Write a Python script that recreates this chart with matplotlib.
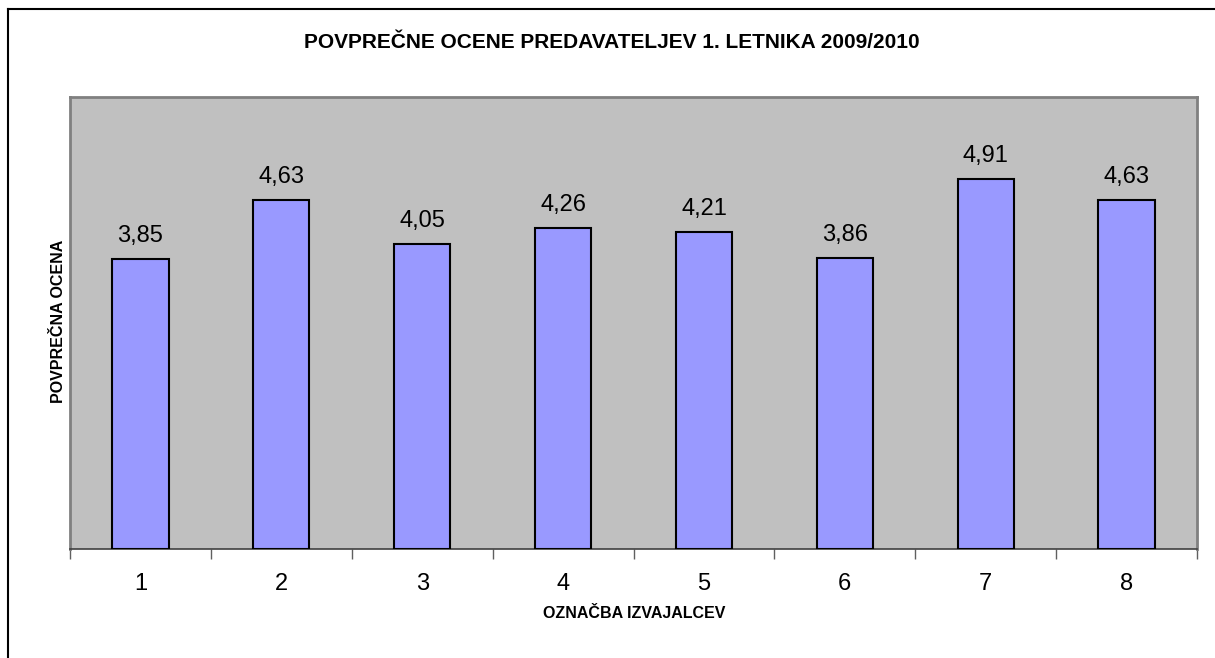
import matplotlib
matplotlib.use("Agg")
import matplotlib.pyplot as plt
from matplotlib.lines import Line2D

categories = ["1", "2", "3", "4", "5", "6", "7", "8"]
values = [3.85, 4.63, 4.05, 4.26, 4.21, 3.86, 4.91, 4.63]
labels = ["3,85", "4,63", "4,05", "4,26", "4,21", "3,86", "4,91", "4,63"]

plt.rcParams['font.family'] = ['Liberation Sans', 'DejaVu Sans']

W, H = 1215, 658
fig = plt.figure(figsize=(W / 100, H / 100), dpi=100)
fig.patch.set_facecolor('white')

# outer frame (left and top visible)
fig.add_artist(Line2D([7.5 / W, 7.5 / W], [0, 1 - 9 / H], transform=fig.transFigure, color='black', lw=1.5))
fig.add_artist(Line2D([7.5 / W, 1], [1 - 9 / H, 1 - 9 / H], transform=fig.transFigure, color='black', lw=1.5))

left, right, top, bottom = 70, 1197, 97, 549
ax = fig.add_axes([left / W, 1 - bottom / H, (right - left) / W, (bottom - top) / H])
ax.set_facecolor('#C0C0C0')

x = list(range(len(categories)))
bars = ax.bar(x, values, width=0.4, color='#9999FF', edgecolor='black', linewidth=1.5, zorder=3)
for xi, v, lab in zip(x, values, labels):
    ax.text(xi, v + 0.16, lab, ha='center', va='bottom', fontsize=17, color='black')

ax.set_xlim(-0.5, len(categories) - 0.5)
ax.set_ylim(0, 6)
ax.set_yticks([])
ax.set_xticks([i - 0.5 for i in range(len(categories) + 1)], minor=False)
ax.set_xticklabels([])
ax.tick_params(axis='x', which='major', direction='out', length=7, width=1, color='#606060')
ax.set_xticks(x, minor=True)
ax.set_xticklabels(categories, minor=True, fontsize=17)
ax.tick_params(axis='x', which='minor', length=0, pad=17)

for s in ['top', 'right', 'left']:
    ax.spines[s].set_color('#808080')
    ax.spines[s].set_linewidth(2)
ax.spines['bottom'].set_color('#404040')
ax.spines['bottom'].set_linewidth(1.2)

ax.set_xlabel('OZNAČBA IZVAJALCEV', fontsize=11.5, fontweight='bold', va='center')
ax.xaxis.set_label_coords(0.5 + (634 - (left + right) / 2) / (right - left), (bottom - 613) / (bottom - top))
ax.set_ylabel('POVPREČNA OCENA', fontsize=11.5, fontweight='bold', va='center')
ax.yaxis.set_label_coords((59 - left) / (right - left), (bottom - 321) / (bottom - top))

fig.text(611.5 / W, 1 - 42 / H, 'POVPREČNE OCENE PREDAVATELJEV 1. LETNIKA 2009/2010',
         ha='center', va='center', fontsize=15, fontweight='bold')

fig.savefig('out.png', dpi=100)
